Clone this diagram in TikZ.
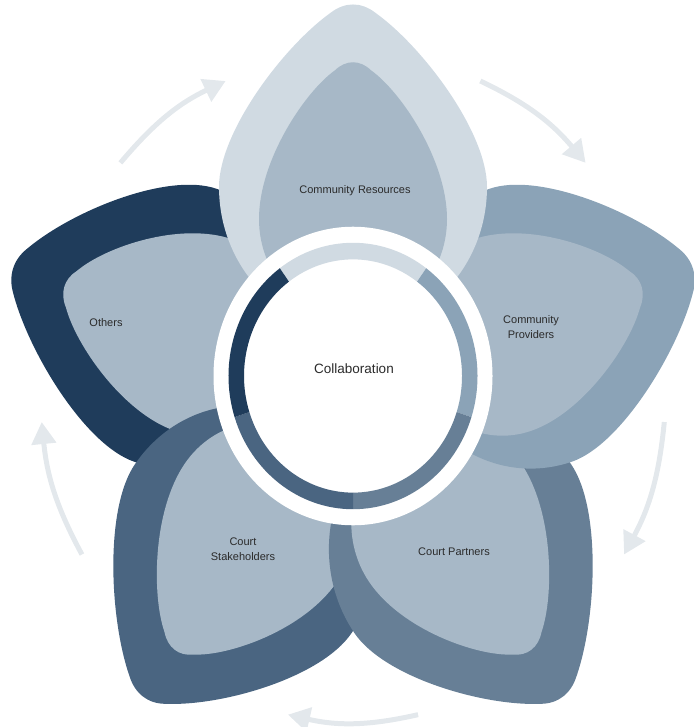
\documentclass[tikz,border=0pt]{standalone}
\usepackage{fontspec}
\setmainfont{Liberation Sans}
\usetikzlibrary{arrows.meta}
\definecolor{cres}{HTML}{D0DAE2}
\definecolor{cprov}{HTML}{8BA3B7}
\definecolor{cpart}{HTML}{677F96}
\definecolor{cstak}{HTML}{4A6581}
\definecolor{coth}{HTML}{1F3C5B}
\definecolor{cinner}{HTML}{A7B8C7}
\definecolor{carrow}{HTML}{E3E8EC}
\definecolor{ctext}{HTML}{2B2B2B}
\newcommand\PetalOut{(0,53) arc[start angle=-90,end angle=0,radius=134] .. controls (134,238) and (70,318) .. (22,350) .. controls (8,360) and (-8,360) .. (-22,350) .. controls (-70,318) and (-134,238) .. (-134,187) arc[start angle=180,end angle=270,radius=134] -- cycle}
\newcommand\PetalIn{(0,63) arc[start angle=-90,end angle=0,radius=94] .. controls (94,212) and (48,276) .. (18,296) .. controls (7,306) and (-7,306) .. (-18,296) .. controls (-48,276) and (-94,212) .. (-94,157) arc[start angle=180,end angle=270,radius=94] -- cycle}
\newcommand\Petal[2]{\begin{scope}[rotate=#1]\fill[#2] \PetalOut;\fill[cinner] \PetalIn;\end{scope}}
\newcommand\RingSeg[3]{\fill[#3] (#1:124.5) arc[start angle=#1,end angle=#2,radius=124.5] -- (#2:109) arc[start angle=#2,end angle=#1,radius=109] -- cycle;}
\tikzset{
  lbl/.style={text=ctext, font=\fontsize{11}{15}\selectfont, align=center, inner sep=0pt},
  cyc/.style={draw=carrow, line width=5pt, -{Triangle[length=22pt,width=24pt]}}
}
\begin{document}
\begin{tikzpicture}[x=1pt,y=1pt]
\useasboundingbox (0,0) rectangle (693,-727);
% petals
\begin{scope}[shift={(353,-387)}, yscale=1.07]
  \Petal{72}{coth}
  \Petal{144}{cstak}
  \Petal{-144}{cpart}
  \Petal{-72}{cprov}
  \Petal{0}{cres}
  % cycle arrows
  \coordinate (a1s) at (138:313); \coordinate (a1e) at (114:313);
  \coordinate (a2s) at (66:313);  \coordinate (a2e) at (42:313);
  \coordinate (a3s) at (-6:313);  \coordinate (a3e) at (-30:313);
  \coordinate (a4s) at (-78:313); \coordinate (a4e) at (-102:313);
  \coordinate (a5s) at (-150:313); \coordinate (a5e) at (-174:313);
  \draw[cyc] (a1s) to[bend left=12] (a1e);
  \draw[cyc] (a2s) to[bend left=12] (a2e);
  \draw[cyc] (a3s) to[bend left=12] (a3e);
  \draw[cyc] (a4s) to[bend left=12] (a4e);
  \draw[cyc] (a5s) to[bend left=12] (a5e);
\end{scope}
% centre
\begin{scope}[shift={(353,-376)}, yscale=1.07]
  \fill[white] (0,0) circle[radius=139.5];
  \RingSeg{54}{126}{cres}
  \RingSeg{-18}{54}{cprov}
  \RingSeg{-90}{-18}{cpart}
  \RingSeg{-162}{-90}{cstak}
  \RingSeg{126}{198}{coth}
\end{scope}
% labels
\node[lbl] (res) at (355,-191) {Community Resources};
\node[lbl] (oth) at (106,-323) {Others};
\node[lbl] (prov) at (531,-327.5) {Community\\Providers};
\node[lbl] (part) at (454,-552) {Court Partners};
\node[lbl] (stak) at (243,-549) {Court\\Stakeholders};
\node[lbl, font=\fontsize{13.5}{16}\selectfont] (collab) at (354,-369) {Collaboration};
\end{tikzpicture}
\end{document}
